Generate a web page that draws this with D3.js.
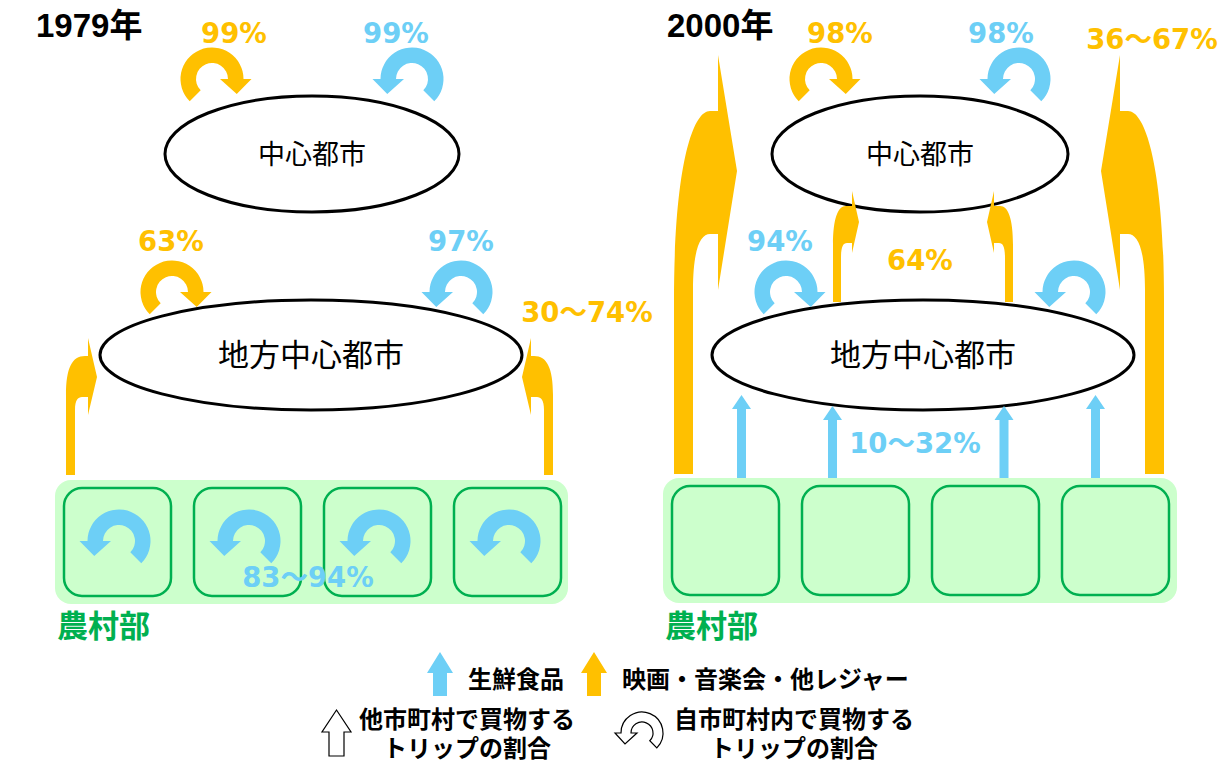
<!DOCTYPE html>
<html lang="ja">
<head>
<meta charset="utf-8">
<script src="https://cdn.jsdelivr.net/npm/d3@7"></script>
<style>
  body { margin: 0; background: #fff; }
  svg { display: block; }
</style>
</head>
<body>
<script>
const FOOD = "生鮮食品";
const LEISURE = "映画・音楽会・他レジャー";
const years = ["1979年", "2000年"];
const categories = [FOOD, LEISURE];
const villages = ["村1", "村2", "村3", "村4"];
const ruralLabel = "農村部";
const legendOut = ["他市町村で買物する", "トリップの割合"];
const legendIn = ["自市町村内で買物する", "トリップの割合"];

// trips that stay inside the same town
const loops1979 = [
  { place: "中心都市", cat: LEISURE, share: "99%" },
  { place: "中心都市", cat: FOOD, share: "99%" },
  { place: "地方中心都市", cat: LEISURE, share: "63%" },
  { place: "地方中心都市", cat: FOOD, share: "97%" },
  { place: "農村部", cat: FOOD, share: "83〜94%" }
];
const loops2000 = [
  { place: "中心都市", cat: LEISURE, share: "98%" },
  { place: "中心都市", cat: FOOD, share: "98%" },
  { place: "地方中心都市", cat: FOOD, share: "94%" }
];
// trips to another town
const flows1979 = [
  { from: "農村部", to: "地方中心都市", cat: LEISURE, share: "30〜74%" }
];
const flows2000 = [
  { from: "地方中心都市", to: "中心都市", cat: LEISURE, share: "64%" },
  { from: "農村部", to: "地方中心都市", cat: FOOD, share: "10〜32%" },
  { from: "農村部", to: "中心都市", cat: LEISURE, share: "36〜67%" }
];

const color = d3.scaleOrdinal(categories, ["#6DCFF6", "#FFC000"]);
const GREEN = "#00B050";
const PCT_FONT = "'DejaVu Sans', 'Noto Sans CJK JP', sans-serif";
const JP_FONT = "'Noto Sans CJK JP', sans-serif";
const PCT_SIZE = 27.5;

const svg = d3
  .select("body")
  .append("svg")
  .attr("width", 1228)
  .attr("height", 762);

const rad = a => (a * Math.PI) / 180;

// circular arrow, dir 1 = clockwise, -1 = counter clockwise
const ringArrow = (cx, cy, dir, o = {}) => {
  const rO = o.rO || 31.5,
    rI = o.rI || 16,
    ext = o.ext || 8,
    len = o.len || 15;
  const pt = (r, a) => [cx + r * Math.cos(rad(a)), cy + r * Math.sin(rad(a))];
  const a0 = dir > 0 ? 135 : 45;
  const a1 = dir > 0 ? 360 : -180;
  const base = pt((rO + rI) / 2 + 1, a1);
  const tip = [base[0], base[1] + len];
  const p = d3.path();
  p.moveTo(...pt(rO, a0));
  p.arc(cx, cy, rO, rad(a0), rad(a1), dir < 0);
  p.lineTo(...pt(rO + ext, a1));
  p.lineTo(...tip);
  p.lineTo(...pt(rI - ext, a1));
  p.lineTo(...pt(rI, a1));
  p.arc(cx, cy, rI, rad(a1), rad(a0), dir > 0);
  p.closePath();
  return p.toString();
};

const upArrow = (cx, tipY, bottomY, sw, hw, hl) =>
  `M${cx - sw / 2},${bottomY}V${tipY + hl}H${cx - hw / 2}L${cx},${tipY}` +
  `L${cx + hw / 2},${tipY + hl}H${cx + sw / 2}V${bottomY}Z`;

// shaft going up, bending sideways into a half arrowhead
const bentArrow = (x0, dir, bottom, s) => {
  const X = d => x0 + dir * d;
  return (
    `M${X(0)},${bottom}V${s.out0}` +
    `C${X(0)},${s.out1} ${X(s.outX)},${s.top} ${X(s.bandX)},${s.top}` +
    `H${X(s.headX)}V${s.headTop}L${X(s.tipX)},${s.tipY}L${X(s.headX)},${s.headBot}` +
    `V${s.bot}H${X(s.inX)}` +
    `C${X(s.inCX)},${s.bot} ${X(s.w)},${s.inCY} ${X(s.w)},${s.in0}V${bottom}Z`
  );
};

const BENT_SMALL = { w: 9, out0: 395, out1: 368, outX: 6, top: 356, bandX: 19, headX: 22, headTop: 338, tipX: 31, tipY: 377, headBot: 415, bot: 397, inX: 16, inCX: 12, inCY: 400, in0: 410 };
const BENT_MID = { w: 8, out0: 245, out1: 218, outX: 5, top: 206, bandX: 13, headX: 19, headTop: 191, tipX: 26, tipY: 222, headBot: 253, bot: 243, inX: 14, inCX: 10, inCY: 247, in0: 258 };
const BENT_TALL = { w: 19, out0: 300, out1: 170, outX: 18, top: 111, bandX: 36, headX: 44, headTop: 55, tipX: 63, tipY: 171, headBot: 290, bot: 234, inX: 36, inCX: 26, inCY: 250, in0: 290 };

const panels = [
  {
    title: [36, 37],
    nodes: {
      中心都市: { cx: 312, cy: 154, rx: 147, ry: 58, fs: 27 },
      地方中心都市: { cx: 311, cy: 355, rx: 211, ry: 55, fs: 31 }
    },
    rural: { x: 55, y: 480, w: 513, h: 124 },
    loops: loops1979,
    loopGlyphs: [[[212, 79, 1]], [[412, 79, -1]], [[172, 292, 1]], [[461, 292, -1]], "rural"],
    loopLabels: [[234, 33], [396, 33], [171, 241], [461, 241], [308, 577]],
    flows: flows1979,
    flowGlyphs: [
      [
        { bent: [66, 1, 475, BENT_SMALL] },
        { bent: [553, -1, 475, BENT_SMALL] }
      ]
    ],
    flowLabels: [[587, 312]]
  },
  {
    title: [667, 37],
    nodes: {
      中心都市: { cx: 920, cy: 154, rx: 148, ry: 58, fs: 27 },
      地方中心都市: { cx: 923, cy: 355, rx: 211, ry: 55, fs: 31 }
    },
    rural: { x: 663, y: 478, w: 514, h: 125 },
    loops: loops2000,
    loopGlyphs: [[[821, 79, 1]], [[1019, 79, -1]], [[786, 292, 1], [1074, 292, -1]]],
    loopLabels: [[840, 33], [1001, 33], [780, 241]],
    flows: flows2000,
    flowGlyphs: [
      [
        { bent: [833, 1, 302, BENT_MID] },
        { bent: [1013, -1, 302, BENT_MID] }
      ],
      [
        { up: [741.5, 395, 478] },
        { up: [832.5, 406, 478] },
        { up: [1004, 406, 478] },
        { up: [1095.5, 395, 478] }
      ],
      [
        { bent: [674, 1, 474, BENT_TALL] },
        { bent: [1164, -1, 474, BENT_TALL] }
      ]
    ],
    flowLabels: [[920, 260], [915, 443], [1152, 39]]
  }
];

const pctText = (g, [x, y], fill, txt) =>
  g.append("text")
    .attr("x", x)
    .attr("y", y + PCT_SIZE * 0.36)
    .attr("text-anchor", "middle")
    .attr("font-family", PCT_FONT)
    .attr("font-weight", "bold")
    .attr("font-size", PCT_SIZE)
    .attr("fill", fill)
    .text(txt);

panels.forEach((p, i) => {
  const g = svg.append("g").attr("class", "panel");

  // rural area with its four villages
  const band = d3
    .scaleBand()
    .domain(villages)
    .range([p.rural.x + 9, p.rural.x + 9 + 4 * 107 + 3 * 23])
    .paddingInner(23 / 130);

  g.append("rect")
    .attr("x", p.rural.x)
    .attr("y", p.rural.y)
    .attr("width", p.rural.w)
    .attr("height", p.rural.h)
    .attr("rx", 16)
    .attr("fill", "#CCFFCC");

  g.selectAll(".village")
    .data(villages)
    .join("rect")
    .attr("class", "village")
    .attr("x", d => band(d))
    .attr("y", p.rural.y + 8)
    .attr("width", band.bandwidth())
    .attr("height", p.rural.h - 16)
    .attr("rx", 18)
    .attr("fill", "none")
    .attr("stroke", GREEN)
    .attr("stroke-width", 2.5);

  g.append("text")
    .attr("x", p.rural.x + 2)
    .attr("y", 637)
    .attr("font-family", JP_FONT)
    .attr("font-weight", "bold")
    .attr("font-size", 31)
    .attr("fill", GREEN)
    .text(ruralLabel);

  // towns
  Object.entries(p.nodes).forEach(([name, n]) => {
    g.append("ellipse")
      .attr("cx", n.cx)
      .attr("cy", n.cy)
      .attr("rx", n.rx)
      .attr("ry", n.ry)
      .attr("fill", "#fff")
      .attr("stroke", "#000")
      .attr("stroke-width", 3);
    g.append("text")
      .attr("x", n.cx)
      .attr("y", n.cy + n.fs * 0.36)
      .attr("text-anchor", "middle")
      .attr("font-family", JP_FONT)
      .attr("font-size", n.fs)
      .text(name);
  });

  // flows between towns
  p.flows.forEach((f, k) => {
    p.flowGlyphs[k].forEach(gl => {
      g.append("path")
        .attr("fill", color(f.cat))
        .attr(
          "d",
          gl.bent
            ? bentArrow(...gl.bent)
            : upArrow(gl.up[0], gl.up[1], gl.up[2], 9, 19, 14)
        );
    });
    pctText(g, p.flowLabels[k], color(f.cat), f.share);
  });

  // trips inside the same town
  p.loops.forEach((l, k) => {
    const glyphs =
      p.loopGlyphs[k] === "rural"
        ? villages.map(v => [band(v) + band.bandwidth() / 2 + 1.5, p.rural.y + p.rural.h / 2 - 1, -1])
        : p.loopGlyphs[k];
    glyphs.forEach(([x, y, dir]) => {
      g.append("path")
        .attr("fill", color(l.cat))
        .attr("d", ringArrow(x, y, dir));
    });
    pctText(g, p.loopLabels[k], color(l.cat), l.share);
  });

  g.append("text")
    .attr("x", p.title[0])
    .attr("y", p.title[1])
    .attr("font-family", "'Liberation Sans', 'Noto Sans CJK JP', sans-serif")
    .attr("font-weight", "bold")
    .attr("font-size", 33)
    .text(years[i]);
});

// legend
const legend = svg.append("g").attr("class", "legend");
const legendX = d3.scaleOrdinal(categories, [440, 594]);
const LEG_SIZE = 24;

categories.forEach(c => {
  legend
    .append("path")
    .attr("fill", color(c))
    .attr("d", upArrow(legendX(c), 652, 696, 14, 26, 21));
  legend
    .append("text")
    .attr("x", legendX(c) + 28)
    .attr("y", 688)
    .attr("font-family", JP_FONT)
    .attr("font-weight", "bold")
    .attr("font-size", LEG_SIZE)
    .text(c);
});

legend
  .append("path")
  .attr("fill", "#fff")
  .attr("stroke", "#000")
  .attr("stroke-width", 1.2)
  .attr("d", upArrow(336.5, 710, 756, 15, 29, 22));

legend
  .append("path")
  .attr("fill", "#fff")
  .attr("stroke", "#000")
  .attr("stroke-width", 1.2)
  .attr("d", ringArrow(642, 733, -1, { rO: 21, rI: 11, ext: 6, len: 11 }));

[[legendOut, 467], [legendIn, 794]].forEach(([lines, cx]) => {
  lines.forEach((line, j) => {
    legend
      .append("text")
      .attr("x", cx)
      .attr("y", 728 + j * 29)
      .attr("text-anchor", "middle")
      .attr("font-family", JP_FONT)
      .attr("font-weight", "bold")
      .attr("font-size", LEG_SIZE)
      .text(line);
  });
});
</script>
</body>
</html>
